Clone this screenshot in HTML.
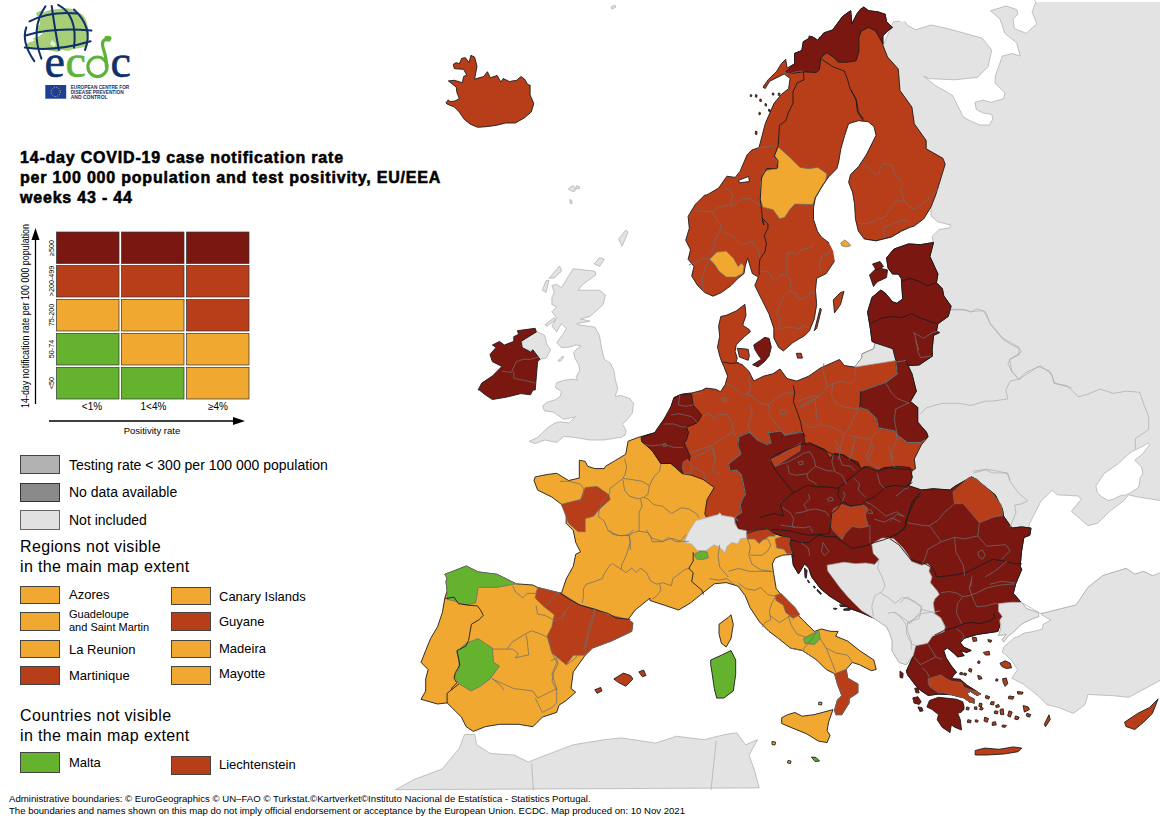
<!DOCTYPE html>
<html><head><meta charset="utf-8"><style>
html,body{margin:0;padding:0;background:#fff;}
body{width:1160px;height:819px;position:relative;overflow:hidden;font-family:"Liberation Sans",sans-serif;color:#000;}
.a{position:absolute;white-space:nowrap;}
</style></head><body>
<svg class="a" style="left:0;top:0" width="1160" height="819" viewBox="0 0 1160 819">
<g stroke-linejoin="round">
<path d="M883.0,46.0 893.0,22.0 900.0,21.0 1034.0,-10.0 1170.0,-10.0 1170.0,600.0 1030.0,600.0 1000.0,560.0 960.0,520.0 900.0,490.0 895.0,440.0 895.0,365.0 920.0,330.0 925.0,260.0 933.0,241.0 932.0,236.7 939.0,229.5 949.0,228.0 951.0,225.0 938.0,222.0 931.0,216.0 931.0,207.0 920.0,160.0 905.0,110.0Z" fill="#e3e3e3" stroke="#aaaaaa" stroke-width="0.7"/>
<path d="M900.0,0.0 1034.5,0.0 1035.7,2.4 1032.1,11.9 1036.9,23.8 1026.2,33.3 1014.3,28.6 1013.1,19.0 1017.9,14.3 1016.7,9.5 1006.0,6.0 990.5,10.7 1000.0,19.0 1004.8,33.3 1016.7,42.9 1020.2,56.0 1011.9,53.6 1002.4,56.0 995.2,76.2 995.2,83.3 1004.8,92.9 1003.6,98.8 990.5,102.4 983.3,100.0 975.0,102.4 976.2,109.5 983.3,113.1 991.7,114.3 992.9,119.0 989.3,125.0 979.8,125.0 969.0,120.2 963.1,116.7 952.4,95.2 935.7,85.7 923.8,76.2 928.6,78.6 954.8,79.8 977.4,77.4 988.1,66.7 991.7,50.0 982.1,38.1 969.0,34.5 947.6,28.6 931.0,25.0 915.5,29.8 907.1,25.0 904.8,21.4 900.0,21.4Z" fill="#fff" stroke="none"/>
<path d="M880.0,-10.0 1170.0,-10.0 1170.0,2.0 880.0,2.0Z" fill="#fff" stroke="none"/>
<path d="M1029.8,523.3 1040.5,501.9 1052.4,490.0 1057.0,494.8 1078.6,496.0 1081.0,499.5 1071.4,511.4 1088.0,525.7 1097.6,523.3 1109.5,511.4 1123.8,500.7 1128.6,494.8 1138.0,497.0 1170.0,502.0 1170.0,572.7 1152.4,575.7 1143.6,571.3 1134.8,574.2 1126.0,568.4 1102.6,575.7 1088.0,587.4 1076.2,605.0 1052.7,610.8 1041.0,613.8 1020.5,601.7 1013.0,593.0 1014.0,585.0 1020.0,566.0 1022.0,550.0 1024.0,537.0Z" fill="#fff" stroke="#aaaaaa" stroke-width="0.7"/>
<path d="M1095.9,485.8 1104.0,473.7 1117.4,464.3 1130.8,452.2 1144.2,445.5 1148.3,442.8 1149.6,444.8 1142.9,453.6 1134.8,460.3 1141.5,467.0 1142.9,473.7 1140.2,477.7 1138.9,487.1 1130.8,492.5 1125.4,495.2 1121.4,495.2 1113.4,499.2 1108.0,500.5 1101.3,496.5 1097.2,492.5Z" fill="#fff" stroke="#aaaaaa" stroke-width="0.7"/>
<path d="M573.3,268.8 594.8,271.2 596.0,274.8 582.9,284.3 578.1,290.2 599.5,290.2 605.5,295.0 603.1,304.5 590.0,316.4 580.5,318.8 590.0,321.2 576.9,323.6 578.1,324.8 594.8,327.1 599.5,335.5 601.9,349.8 604.3,359.3 610.3,363.2 614.0,370.5 615.2,379.1 617.7,388.8 615.2,396.2 621.3,395.5 629.9,398.6 633.5,403.5 632.3,413.2 627.4,419.3 622.5,424.2 626.2,430.3 625.0,435.2 620.1,437.7 618.6,437.6 604.3,440.0 590.0,440.0 575.7,437.6 563.8,436.4 556.7,442.4 544.8,440.0 535.2,443.6 529.3,441.2 537.6,437.6 547.1,428.1 554.3,423.3 560.3,421.8 568.8,423.0 575.5,416.9 563.9,419.3 556.6,414.5 553.0,412.0 544.4,410.8 542.6,405.9 546.9,402.3 555.4,399.8 560.3,396.2 561.5,391.3 555.4,387.6 556.6,382.7 563.9,380.3 573.7,379.1 577.4,380.3 576.2,376.6 579.8,370.5 578.6,364.4 574.9,358.3 573.7,352.2 577.4,348.5 581.0,346.1 576.2,344.9 568.8,347.3 561.4,347.4 556.7,342.6 563.8,333.1 566.2,328.3 561.4,323.6 556.7,331.9 551.9,326.0 556.7,317.6 551.9,311.7 556.7,306.9 551.9,304.5 551.9,297.4 554.3,292.6 551.9,285.5 556.7,284.3 561.4,287.9 568.6,276.0Z" fill="#e3e3e3" stroke="#aaaaaa" stroke-width="0.7"/>
<path d="M522.1,342.6 528.1,334.3 537.6,331.9 544.8,335.5 547.1,345.0 550.7,349.8 546.0,358.1 540.0,359.3 532.9,352.1 528.1,349.8 522.1,349.8Z" fill="#e3e3e3" stroke="#aaaaaa" stroke-width="0.7"/>
<path d="M542.4,290.2 546.0,280.7 549.0,280.2 546.0,292.6Z" fill="#e3e3e3" stroke="#aaaaaa" stroke-width="0.7"/>
<path d="M549.0,278.3 559.5,266.0 561.9,270.7 554.3,277.9Z" fill="#e3e3e3" stroke="#aaaaaa" stroke-width="0.7"/>
<path d="M618.6,239.0 625.7,230.2 628.1,231.9 622.1,246.2Z" fill="#e3e3e3" stroke="#aaaaaa" stroke-width="0.7"/>
<path d="M594.3,264.0 599.5,257.4 604.3,259.3 599.5,266.4Z" fill="#e3e3e3" stroke="#aaaaaa" stroke-width="0.7"/>
<path d="M544.8,324.8 554.3,317.6 555.5,320.0 547.1,326.0Z" fill="#e3e3e3" stroke="#aaaaaa" stroke-width="0.7"/>
<path d="M557.8,360.8 562.7,355.9 563.9,357.1 560.3,361.4Z" fill="#e3e3e3" stroke="#aaaaaa" stroke-width="0.7"/>
<path d="M395.5,789.7 414.5,779.3 442.1,769.0 459.3,748.3 464.5,734.5 474.8,734.5 476.6,744.8 490.3,753.4 514.5,755.2 528.3,762.1 545.5,755.2 573.1,744.8 604.1,739.7 621.4,737.9 655.9,743.1 676.6,736.2 704.1,739.7 724.8,734.5 736.9,732.8 745.5,744.8 757.6,739.7 749.0,755.2 754.1,769.0 759.3,787.9Z" fill="#e3e3e3" stroke="#aaaaaa" stroke-width="0.7"/>
<path d="M453.2,64.4 456.2,62.6 459.3,63.8 461.7,58.3 465.4,57.7 469.1,62.6 470.9,55.3 474.6,57.1 477.0,66.2 474.6,79.1 483.7,76.6 487.4,71.7 490.4,77.8 497.1,75.4 500.8,82.1 503.2,78.5 509.3,81.5 516.7,80.3 520.9,76.6 524.6,79.1 527.7,84.6 530.1,85.2 530.1,94.9 533.8,103.5 531.3,112.0 524.0,118.1 515.4,123.0 505.7,123.0 495.9,125.4 486.2,126.7 477.6,127.3 470.3,124.2 464.2,119.3 459.3,112.0 454.4,107.1 447.1,104.1 445.9,102.9 448.3,99.8 450.1,101.6 455.0,101.0 459.3,98.6 456.9,92.5 456.2,87.0 448.3,80.9 454.4,80.3 462.3,82.7 463.6,76.6 466.6,74.8 463.6,69.3 454.4,68.7Z" fill="#b83d19" stroke="#1c1c1c" stroke-width="0.9"/>
<path d="M517.4,330.7 535.2,328.3 536.4,331.9 521.0,341.4 522.1,347.4 530.5,352.1 532.9,349.8 540.0,359.3 537.6,361.7 536.4,376.0 535.2,390.0 532.9,390.0 530.5,394.8 521.0,393.6 506.7,397.1 492.4,399.5 485.2,394.8 479.3,390.0 478.1,390.0 481.7,383.1 492.4,376.0 501.9,366.4 492.4,361.7 490.0,354.5 496.0,347.4 492.4,345.0 499.5,341.4 504.3,345.0 513.8,341.4 513.8,336.7 518.6,334.3Z" fill="#7a1711" stroke="#1c1c1c" stroke-width="0.9"/>
<path d="M713.1,296.2 704.8,292.6 697.6,285.5 691.7,276.0 694.0,266.4 688.1,259.3 690.5,249.8 685.7,240.2 689.3,228.3 688.1,216.4 695.2,204.5 704.8,195.0 706.7,195.0 718.6,188.1 726.9,176.2 735.2,177.4 740.0,171.4 747.1,154.8 751.9,150.0 759.0,147.6 765.2,123.8 774.0,103.3 781.3,94.5 788.6,88.6 790.1,78.4 784.2,74.0 769.6,81.3 765.2,88.6 763.0,87.1 768.1,79.8 776.9,71.0 781.3,63.7 785.7,59.3 787.1,68.1 794.5,63.7 794.5,53.4 801.8,50.5 803.3,41.7 812.1,36.6 817.9,40.3 823.8,32.9 832.6,30.0 842.4,16.7 847.1,13.1 850.7,10.7 851.9,23.8 856.7,14.3 860.2,9.5 863.8,7.1 868.6,10.7 878.1,11.9 885.2,14.3 886.4,21.4 892.4,27.4 887.6,31.0 882.9,35.7 882.9,45.2 887.6,57.1 898.3,69.0 900.0,90.5 911.9,107.1 914.3,123.8 926.2,140.5 926.2,148.8 942.9,158.3 945.2,164.3 935.7,195.0 931.0,206.9 923.8,218.8 914.3,226.0 910.0,227.3 901.4,231.2 891.6,237.0 876.0,240.9 864.3,239.0 855.0,241.0 838.0,262.0 835.7,259.3 826.2,273.6 816.7,278.3 815.5,290.2 816.7,304.5 814.3,318.8 809.5,330.7 804.8,335.5 792.9,342.6 783.3,351.0 778.6,347.4 773.8,337.9 773.8,328.3 769.0,314.0 761.9,299.8 754.8,285.5 758.3,277.1 752.4,273.6 747.6,258.1 745.2,266.4 744.0,273.6 738.1,278.3 731.0,285.5 721.4,292.6Z" fill="#b83d19" stroke="#1c1c1c" stroke-width="0.9"/>
<path d="M848.6,123.7 858.4,120.7 868.2,121.7 874.0,126.6 876.0,135.4 872.1,143.2 866.2,155.0 858.4,166.7 850.6,174.5 848.6,182.3 852.5,192.1 854.5,203.8 855.5,219.4 858.4,231.2 864.3,239.0 876.0,240.9 891.6,237.0 901.4,231.2 910.0,227.3 910.0,270.1 836.9,270.1 835.0,262.4 833.0,250.7 829.1,242.9 821.3,237.0 817.4,231.2 813.5,219.4 813.5,207.7 815.4,197.9 823.2,184.3 829.1,176.4 836.9,168.6 838.9,160.8 840.8,149.1 844.7,135.4Z" fill="#fff" stroke="none"/>
<path d="M738.5,180.3 748.7,176.4 749.4,181.5 739.7,182.8Z" fill="#fff" stroke="#1c1c1c" stroke-width="0.9"/>
<path d="M656.2,432.1 661.0,423.8 669.3,411.9 674.0,397.6 682.4,394.0 691.9,392.9 701.4,390.5 706.2,388.1 715.7,389.3 720.5,391.7 725.2,384.5 727.6,376.2 724.0,366.7 721.9,362.5 719.7,355.9 717.5,347.1 719.7,336.2 718.6,326.3 720.8,316.4 726.3,315.3 736.2,310.9 744.9,304.3 746.0,315.3 742.7,325.2 749.3,329.6 750.4,331.8 744.9,336.2 739.5,341.6 736.2,344.9 735.1,351.5 737.3,358.1 736.2,361.4 738.4,363.6 741.9,364.3 749.0,371.4 753.8,381.0 763.3,376.2 772.9,373.8 780.0,369.0 787.1,378.6 796.7,381.0 808.6,376.2 820.5,367.9 839.5,359.5 844.3,365.5 854.7,367.1 862.1,357.6 862.1,353.9 873.8,348.8 875.2,342.9 872.0,341.4 870.5,329.6 867.6,312.1 872.0,297.4 880.8,290.1 885.2,293.0 892.5,301.8 896.9,303.3 902.7,298.9 901.3,278.4 898.4,274.0 892.5,274.0 888.1,268.1 886.6,257.8 894.0,249.0 908.6,243.9 920.3,244.7 933.5,242.5 929.9,256.4 937.9,274.0 936.4,282.7 942.3,288.6 943.8,295.9 951.1,306.2 948.2,316.4 937.9,323.8 936.4,331.1 939.4,332.6 933.5,335.5 932.1,350.0 932.4,356.1 919.2,364.9 907.5,365.6 911.9,373.7 916.3,391.3 910.4,401.5 917.7,407.4 917.7,422.1 926.5,432.3 928.0,436.7 927.4,437.6 921.4,444.8 914.3,459.0 915.5,468.6 911.9,471.0 910.7,480.5 907.1,485.2 921.4,490.0 933.3,488.8 950.0,490.0 954.8,486.4 971.4,476.9 976.2,479.3 983.3,485.2 995.2,494.8 1002.4,509.0 1003.6,516.2 1011.9,528.1 1021.4,526.9 1031.0,528.1 1029.8,535.2 1023.8,537.6 1021.4,551.9 1020.2,566.2 1021.7,569.5 1015.7,583.8 1013.3,593.3 1020.5,601.7 999.0,607.6 1002.6,617.1 997.9,631.4 997.9,631.4 976.9,634.5 964.1,638.3 960.3,642.8 964.1,647.3 971.2,650.5 966.7,652.4 960.3,650.5 964.1,655.6 957.7,656.9 953.8,653.1 947.4,647.9 943.6,650.5 946.2,658.2 951.3,665.9 956.4,672.3 953.8,674.9 951.3,678.7 960.3,679.4 966.7,685.1 976.9,691.5 980.8,694.1 976.9,695.4 970.5,691.5 966.7,692.8 969.2,696.7 974.4,699.2 974.4,703.1 969.2,701.8 964.1,697.9 959.0,696.7 951.3,694.7 938.5,694.1 928.2,695.4 920.5,690.3 915.4,685.1 907.7,674.9 906.4,671.0 912.8,656.9 916.7,644.1 928.2,637.7 930.8,630.0 944.3,631.4 873.3,617.9 860.1,612.1 851.3,609.1 841.0,603.3 829.3,595.9 820.5,588.6 811.7,576.9 808.8,568.1 804.4,563.7 804.5,563.7 801.1,569.7 798.5,573.9 793.4,565.4 792.6,560.3 791.4,549.3 789.9,543.4 791.4,537.6 745.0,531.0 700.0,530.0 690.0,500.0 650.0,453.0 641.9,436.9Z" fill="#b83d19" stroke="#1c1c1c" stroke-width="0.9"/>
<path d="M650.0,434.0 637.6,437.6 628.1,441.2 625.7,454.3 613.8,461.4 605.5,466.2 604.3,468.6 594.8,468.6 587.6,466.2 585.2,461.4 579.3,460.2 579.3,478.1 568.6,480.5 556.7,473.3 547.1,474.5 535.2,476.9 534.0,480.5 537.6,490.0 551.9,497.1 561.4,504.3 566.2,513.8 566.2,523.3 573.3,530.5 575.7,542.4 580.5,551.9 575.7,554.3 573.3,566.2 566.2,579.0 561.4,593.3 537.6,587.4 532.9,585.0 516.2,583.8 497.1,574.3 478.1,571.9 466.2,566.0 454.3,570.7 444.8,574.3 447.1,577.9 446.0,581.4 447.1,591.0 444.8,598.1 442.4,612.4 437.6,626.7 430.5,638.6 425.7,650.5 421.0,662.4 428.1,669.5 425.7,679.0 425.7,691.0 421.0,699.3 437.6,704.0 447.1,702.9 451.9,707.6 461.4,717.1 466.2,726.7 473.3,731.4 485.2,726.7 499.5,724.3 518.6,724.3 532.9,726.7 542.4,717.1 556.7,712.4 559.0,705.2 566.2,700.5 575.7,692.1 571.0,688.6 573.3,671.9 585.2,655.2 592.4,648.1 611.4,641.0 631.7,631.4 632.9,623.1 628.1,619.5 635.2,610.0 650.0,598.1 650.0,600.5 664.3,605.2 678.6,610.0 690.5,602.9 702.4,593.3 714.3,583.8 726.2,582.6 738.1,586.2 745.2,595.7 750.0,607.6 759.5,621.9 769.0,631.4 778.6,638.6 790.5,648.1 802.4,650.5 809.5,655.2 816.7,660.0 826.2,669.5 834.5,673.7 837.4,684.0 841.8,695.7 837.4,700.1 834.5,710.3 835.9,714.7 841.8,714.7 849.1,703.0 849.1,698.6 857.9,692.7 857.9,684.0 847.7,678.1 846.2,669.3 852.4,662.4 859.5,664.8 871.4,670.7 876.2,669.5 873.8,660.0 859.5,650.5 847.6,641.0 835.7,636.2 838.1,631.4 831.0,631.4 821.4,629.0 814.3,631.4 802.4,619.5 792.9,610.0 785.7,600.5 776.2,588.6 773.8,574.3 772.3,564.0 775.2,558.1 782.6,555.2 792.8,554.4 794.3,556.6 791.4,549.3 789.9,543.4 791.4,537.6 782.6,536.1 773.8,533.2 767.9,528.8 756.2,530.3 747.4,533.2 744.5,531.7 732.7,524.4 719.0,513.8 707.1,518.6 704.8,513.8 707.1,499.5 714.2,487.5 703.3,479.6 691.5,475.2 682.7,473.8 671.0,463.5 660.8,463.5 652.0,450.3 641.7,441.5 641.0,437.9Z" fill="#f1a830" stroke="#1c1c1c" stroke-width="0.9"/>
<path d="M719.0,624.3 728.6,617.1 731.0,614.8 733.3,624.3 731.0,638.6 726.2,646.9 721.4,643.3 719.0,633.8Z" fill="#f1a830" stroke="#1c1c1c" stroke-width="0.9"/>
<path d="M710.7,660.0 721.4,655.2 731.0,650.5 735.7,660.0 735.7,674.3 733.3,691.0 723.8,698.1 716.7,698.1 714.3,688.6 711.9,671.9 710.7,664.8Z" fill="#64b22e" stroke="#1c1c1c" stroke-width="0.9"/>
<path d="M781.7,717.7 787.6,714.7 794.9,712.5 802.2,716.2 814.0,714.7 833.0,709.6 828.6,722.1 827.1,730.8 830.1,735.2 827.1,742.6 818.4,741.1 806.6,733.8 792.0,727.9 781.7,723.5Z" fill="#f1a830" stroke="#1c1c1c" stroke-width="0.9"/>
<path d="M613.8,679.0 623.3,673.1 630.5,675.5 632.9,679.0 625.7,686.2 618.6,682.6Z" fill="#b83d19" stroke="#1c1c1c" stroke-width="0.9"/>
<path d="M638.8,671.9 643.6,670.0 646.0,675.5 642.4,676.7Z" fill="#b83d19" stroke="#1c1c1c" stroke-width="0.9"/>
<path d="M594.8,689.8 600.7,687.4 601.9,691.0 597.1,693.3Z" fill="#b83d19" stroke="#1c1c1c" stroke-width="0.9"/>
<path d="M833.3,299.8 840.5,292.6 844.0,291.4 840.5,304.5 834.5,312.9Z" fill="#b83d19" stroke="#1c1c1c" stroke-width="0.9"/>
<path d="M814.3,330.7 820.2,308.1 821.4,309.3 816.7,328.3Z" fill="#b83d19" stroke="#1c1c1c" stroke-width="0.9"/>
<path d="M796.4,353.3 801.2,353.3 802.4,358.1 797.6,358.1Z" fill="#b83d19" stroke="#1c1c1c" stroke-width="0.9"/>
<path d="M753.7,344.9 760.3,340.5 764.7,337.3 769.1,338.4 771.3,347.1 769.1,355.9 764.7,361.4 758.1,366.9 752.6,364.7 761.4,359.2 758.1,354.8 754.8,349.3Z" fill="#7a1711" stroke="#1c1c1c" stroke-width="0.9"/>
<path d="M737.3,348.2 748.2,349.3 749.3,355.9 748.2,360.3 739.5,357.0Z" fill="#b83d19" stroke="#1c1c1c" stroke-width="0.9"/>
<path d="M869.5,275.0 877.0,267.5 887.5,270.0 886.5,277.5 877.0,282.0 873.5,286.5Z" fill="#7a1711" stroke="#1c1c1c" stroke-width="0.9"/>
<path d="M872.5,264.0 880.0,261.5 883.5,266.5 876.5,270.5Z" fill="#7a1711" stroke="#1c1c1c" stroke-width="0.9"/>
<path d="M975.2,750.5 984.8,748.1 999.0,749.3 1013.3,746.9 1021.7,748.1 1018.1,751.7 1003.8,754.0 987.1,755.0 975.2,755.0Z" fill="#b83d19" stroke="#1c1c1c" stroke-width="0.9"/>
<path d="M1044.3,724.3 1049.0,714.8 1050.2,719.5 1045.5,726.7Z" fill="#b83d19" stroke="#1c1c1c" stroke-width="0.9"/>
<path d="M1124.5,722.2 1137.7,713.4 1149.5,707.5 1158.2,698.8 1152.4,713.4 1143.6,722.2 1134.8,729.5 1126.0,726.6Z" fill="#b83d19" stroke="#1c1c1c" stroke-width="0.9"/>
<path d="M900.0,671.0 903.2,673.6 902.6,678.1 900.0,677.4Z" fill="#7a1711" stroke="#1c1c1c" stroke-width="0.9"/>
<path d="M914.7,688.3 917.9,687.7 919.2,692.8 916.0,692.8Z" fill="#7a1711" stroke="#1c1c1c" stroke-width="0.9"/>
<path d="M912.8,697.9 917.9,696.7 921.2,701.8 919.2,704.4 914.1,703.1Z" fill="#7a1711" stroke="#1c1c1c" stroke-width="0.9"/>
<path d="M917.9,706.9 921.8,707.6 923.1,710.8 919.9,711.4Z" fill="#7a1711" stroke="#1c1c1c" stroke-width="0.9"/>
<path d="M972.4,637.1 976.3,637.7 976.9,640.9 973.1,641.5Z" fill="#b83d19" stroke="#1c1c1c" stroke-width="0.9"/>
<path d="M987.8,639.6 991.7,640.3 991.0,642.2 988.5,641.8Z" fill="#b83d19" stroke="#1c1c1c" stroke-width="0.9"/>
<path d="M983.3,652.4 989.1,651.2 989.7,655.0 985.3,655.0Z" fill="#b83d19" stroke="#1c1c1c" stroke-width="0.9"/>
<path d="M1000.0,663.3 1005.1,660.8 1010.3,663.3 1011.5,667.8 1006.4,668.5 1001.9,666.5Z" fill="#b83d19" stroke="#1c1c1c" stroke-width="0.9"/>
<path d="M1002.6,678.7 1006.4,678.1 1007.7,683.8 1005.1,686.4 1003.2,682.6Z" fill="#b83d19" stroke="#1c1c1c" stroke-width="0.9"/>
<path d="M977.6,675.5 980.8,676.2 982.1,678.7 978.8,679.4Z" fill="#b83d19" stroke="#1c1c1c" stroke-width="0.9"/>
<path d="M969.2,668.5 971.8,669.1 971.2,672.3 968.6,671.0Z" fill="#b83d19" stroke="#1c1c1c" stroke-width="0.9"/>
<path d="M1017.3,691.5 1023.1,692.2 1022.4,694.1 1017.9,694.1Z" fill="#b83d19" stroke="#1c1c1c" stroke-width="0.9"/>
<path d="M1009.0,696.0 1014.1,696.7 1012.8,699.2 1008.3,698.6Z" fill="#b83d19" stroke="#1c1c1c" stroke-width="0.9"/>
<path d="M985.9,695.4 989.7,696.7 988.5,699.2 985.3,697.9Z" fill="#b83d19" stroke="#1c1c1c" stroke-width="0.9"/>
<path d="M991.0,701.8 994.2,701.8 993.6,705.0 990.4,704.4Z" fill="#b83d19" stroke="#1c1c1c" stroke-width="0.9"/>
<path d="M995.5,705.6 998.7,704.4 999.4,706.9 996.2,707.6Z" fill="#b83d19" stroke="#1c1c1c" stroke-width="0.9"/>
<path d="M1000.0,709.5 1003.2,708.8 1003.8,714.6 1000.6,714.6Z" fill="#b83d19" stroke="#1c1c1c" stroke-width="0.9"/>
<path d="M994.9,710.8 998.1,711.4 997.4,714.0 994.2,713.3Z" fill="#b83d19" stroke="#1c1c1c" stroke-width="0.9"/>
<path d="M1009.0,710.8 1012.2,712.1 1010.3,717.2 1007.7,715.9Z" fill="#b83d19" stroke="#1c1c1c" stroke-width="0.9"/>
<path d="M984.6,717.2 988.5,718.5 987.2,722.3 984.0,721.0Z" fill="#b83d19" stroke="#1c1c1c" stroke-width="0.9"/>
<path d="M992.3,722.3 995.5,721.7 996.2,724.9 992.3,725.5Z" fill="#b83d19" stroke="#1c1c1c" stroke-width="0.9"/>
<path d="M1002.6,724.9 1006.4,725.5 1005.1,727.4 1001.9,726.8Z" fill="#b83d19" stroke="#1c1c1c" stroke-width="0.9"/>
<path d="M1015.4,715.9 1019.2,717.2 1017.9,719.7 1014.7,719.1Z" fill="#b83d19" stroke="#1c1c1c" stroke-width="0.9"/>
<path d="M979.5,703.1 982.1,703.7 981.4,706.9 978.8,706.3Z" fill="#b83d19" stroke="#1c1c1c" stroke-width="0.9"/>
<path d="M980.8,706.9 983.3,708.2 982.1,710.1 979.5,709.5Z" fill="#b83d19" stroke="#1c1c1c" stroke-width="0.9"/>
<path d="M974.4,706.9 976.9,706.9 976.9,709.5 974.4,709.2Z" fill="#b83d19" stroke="#1c1c1c" stroke-width="0.9"/>
<path d="M967.9,719.7 971.2,720.4 970.5,722.9 967.3,722.3Z" fill="#b83d19" stroke="#1c1c1c" stroke-width="0.9"/>
<path d="M975.6,719.7 978.2,720.4 977.6,722.3 975.0,721.7Z" fill="#b83d19" stroke="#1c1c1c" stroke-width="0.9"/>
<path d="M1023.1,705.6 1028.2,706.9 1029.5,709.5 1024.4,712.1Z" fill="#b83d19" stroke="#1c1c1c" stroke-width="0.9"/>
<path d="M1026.9,713.3 1030.8,714.6 1029.5,717.2 1026.3,715.9Z" fill="#b83d19" stroke="#1c1c1c" stroke-width="0.9"/>
<path d="M960.3,672.3 962.8,672.9 962.2,674.9 959.6,674.2Z" fill="#b83d19" stroke="#1c1c1c" stroke-width="0.9"/>
<path d="M964.1,672.9 966.7,673.6 966.0,675.5 963.5,674.9Z" fill="#b83d19" stroke="#1c1c1c" stroke-width="0.9"/>
<path d="M996.2,678.7 998.1,679.4 997.4,681.3 995.5,680.6Z" fill="#b83d19" stroke="#1c1c1c" stroke-width="0.9"/>
<path d="M978.2,660.8 980.1,661.4 979.5,663.6 977.6,663.1Z" fill="#b83d19" stroke="#1c1c1c" stroke-width="0.9"/>
<path d="M961.5,706.9 964.1,707.6 963.5,710.1 960.9,709.5Z" fill="#b83d19" stroke="#1c1c1c" stroke-width="0.9"/>
<path d="M966.7,706.9 969.2,707.6 968.6,710.1 966.0,709.5Z" fill="#b83d19" stroke="#1c1c1c" stroke-width="0.9"/>
<path d="M804.5,567.9 807.1,570.5 806.2,578.2 805.0,577.4Z" fill="#7a1711" stroke="#1c1c1c" stroke-width="0.9"/>
<path d="M810.5,571.4 812.6,572.2 811.8,574.8 810.3,573.9Z" fill="#7a1711" stroke="#1c1c1c" stroke-width="0.9"/>
<path d="M807.9,579.9 809.7,582.5 808.8,582.9 807.5,580.8Z" fill="#7a1711" stroke="#1c1c1c" stroke-width="0.9"/>
<path d="M813.9,585.9 815.6,587.6 814.8,588.3 813.2,586.8Z" fill="#7a1711" stroke="#1c1c1c" stroke-width="0.9"/>
<path d="M817.4,589.3 821.6,593.6 820.8,594.4 816.9,590.6Z" fill="#7a1711" stroke="#1c1c1c" stroke-width="0.9"/>
<path d="M839.6,604.7 848.1,605.6 847.3,606.8 840.4,606.4Z" fill="#7a1711" stroke="#1c1c1c" stroke-width="0.9"/>
<path d="M843.8,609.0 851.5,608.1 849.8,610.3 843.8,610.3Z" fill="#7a1711" stroke="#1c1c1c" stroke-width="0.9"/>
<path d="M833.6,608.1 837.0,608.5 836.2,609.4 833.8,609.1Z" fill="#7a1711" stroke="#1c1c1c" stroke-width="0.9"/>
<path d="M811.5,757.0 816.0,757.5 819.5,761.0 815.0,761.5Z" fill="#64b22e" stroke="#1c1c1c" stroke-width="0.9"/>
<path d="M772.0,741.5 775.5,742.0 775.0,745.0 772.0,744.5Z" fill="#f1a830" stroke="#1c1c1c" stroke-width="0.9"/>
<path d="M788.0,760.5 791.0,761.0 790.5,763.5 787.5,763.0Z" fill="#f1a830" stroke="#1c1c1c" stroke-width="0.9"/>
<path d="M819.0,702.0 822.0,702.5 821.5,705.0 818.5,704.5Z" fill="#f1a830" stroke="#1c1c1c" stroke-width="0.9"/>
<path d="M568.3,189.0 572.7,185.6 575.6,188.0 574.6,191.5 571.7,191.0Z" fill="#e3e3e3" stroke="#aaaaaa" stroke-width="0.7"/>
<path d="M576.5,185.6 580.0,187.0 579.0,189.0 576.0,188.5Z" fill="#e3e3e3" stroke="#aaaaaa" stroke-width="0.7"/>
<path d="M569.8,199.5 572.0,200.5 572.0,204.0 570.0,203.0Z" fill="#e3e3e3" stroke="#aaaaaa" stroke-width="0.7"/>
<path d="M611.0,7.0 615.0,5.0 616.0,7.0 612.0,9.0Z" fill="#e3e3e3" stroke="#aaaaaa" stroke-width="0.7"/>
<path d="M755.6,94.5 757.1,95.2 756.7,97.4 755.2,96.7Z" fill="#b83d19" stroke="#1c1c1c" stroke-width="0.9"/>
<path d="M760.0,98.9 761.5,99.6 761.1,101.8 759.6,101.1Z" fill="#b83d19" stroke="#1c1c1c" stroke-width="0.9"/>
<path d="M765.2,103.3 766.6,104.0 766.3,106.2 764.9,105.5Z" fill="#b83d19" stroke="#1c1c1c" stroke-width="0.9"/>
<path d="M768.8,109.1 770.3,109.9 769.9,111.8 768.4,111.0Z" fill="#b83d19" stroke="#1c1c1c" stroke-width="0.9"/>
<path d="M759.3,112.1 760.5,112.8 760.0,115.0 758.7,114.2Z" fill="#b83d19" stroke="#1c1c1c" stroke-width="0.9"/>
<path d="M755.6,131.1 757.1,131.8 756.7,134.8 755.2,134.0Z" fill="#b83d19" stroke="#1c1c1c" stroke-width="0.9"/>
<path d="M772.5,93.0 774.0,93.3 773.7,95.2 772.2,94.8Z" fill="#b83d19" stroke="#1c1c1c" stroke-width="0.9"/>
<path d="M778.4,93.0 780.1,93.4 779.5,95.6 778.1,95.2Z" fill="#b83d19" stroke="#1c1c1c" stroke-width="0.9"/>
<path d="M750.5,94.5 752.0,95.2 751.4,96.7 750.1,96.2Z" fill="#b83d19" stroke="#1c1c1c" stroke-width="0.9"/>
<path d="M809.1,35.9 811.3,36.6 810.9,38.8 808.8,38.1Z" fill="#b83d19" stroke="#1c1c1c" stroke-width="0.9"/>
<path d="M819.4,37.3 820.8,38.1 820.1,40.3 818.6,39.5Z" fill="#b83d19" stroke="#1c1c1c" stroke-width="0.9"/>
<path d="M850.1,38.8 851.6,39.5 851.0,41.7 849.6,41.0Z" fill="#b83d19" stroke="#1c1c1c" stroke-width="0.9"/>
<path d="M684.1,542.5 688.5,532.2 695.9,520.5 704.7,518.3 717.8,514.7 720.0,512.9 721.5,515.4 734.0,517.6 734.7,523.4 738.4,529.3 746.4,530.8 746.4,538.1 740.5,538.8 737.6,544.0 731.8,542.5 726.6,546.9 725.2,552.7 720.0,547.6 714.2,544.7 706.1,550.5 697.3,550.5 691.5,544.0Z" fill="#e3e3e3" stroke="#aaaaaa" stroke-width="0.7"/>
<path d="M827.1,565.2 844.0,562.2 855.7,563.7 865.9,563.0 874.7,564.4 879.1,559.3 873.3,553.4 871.8,543.9 882.1,538.1 893.8,538.8 902.6,547.6 908.4,555.6 911.4,561.5 921.6,565.2 927.5,563.7 930.4,566.6 928.9,571.0 931.9,576.9 930.4,582.7 937.7,591.5 939.2,594.5 934.8,598.9 933.3,603.3 934.8,613.5 940.7,617.9 945.1,626.7 944.3,631.4 932.4,636.2 927.6,643.3 915.7,645.7 913.3,655.2 906.2,664.8 899.0,662.4 891.9,650.5 892.3,641.4 889.4,632.6 886.4,626.7 873.3,617.9 868.9,615.0 861.5,610.6 857.1,606.2 848.4,597.4 839.6,587.1 832.2,576.9 827.8,571.0Z" fill="#e3e3e3" stroke="#aaaaaa" stroke-width="0.7"/>
<path d="M998.5,603.6 1011.3,602.3 1021.5,602.3 1026.7,608.7 1038.2,612.6 1038.8,616.4 1031.8,619.0 1021.5,624.1 1013.8,631.8 1008.7,635.6 1003.6,642.1 1002.3,639.5 1006.2,634.4 998.5,635.6 1001.0,627.9 999.7,620.3 1002.3,616.4 998.5,611.3Z" fill="#e3e3e3" stroke="#aaaaaa" stroke-width="0.7"/>
<path d="M1041.0,613.8 1052.7,610.8 1076.2,605.0 1087.9,587.4 1102.6,575.7 1126.0,568.4 1134.8,574.2 1143.6,571.3 1152.4,575.7 1160.0,572.7 1170.0,572.0 1170.0,675.0 1128.9,697.3 1114.3,695.8 1087.9,694.4 1085.0,704.6 1073.3,713.4 1058.6,707.5 1046.9,704.6 1038.1,695.8 1023.4,684.1 1011.7,678.2 1017.6,669.5 1011.7,660.7 1005.9,654.8 1002.3,652.3 1003.6,647.2 1013.8,638.2 1020.3,635.6 1024.1,633.1 1031.8,631.8 1042.1,629.2 1043.3,624.1 1051.0,620.3 1042.1,615.1 1042.1,612.6Z" fill="#e3e3e3" stroke="#aaaaaa" stroke-width="0.7"/>
<path d="M854.7,367.1 862.1,357.6 862.1,353.9 873.8,348.8 875.2,342.9 882.6,344.4 892.8,348.8 895.8,360.5Z" fill="#e3e3e3" stroke="#aaaaaa" stroke-width="0.7"/>
<path d="M785.7,71.8 794.5,63.7 794.5,53.4 801.8,50.5 803.3,41.7 812.1,36.6 817.9,40.3 823.8,32.9 832.6,30.0 842.4,16.7 847.1,13.1 850.7,10.7 851.9,23.8 856.7,14.3 860.2,9.5 863.8,7.1 868.6,10.7 878.1,11.9 885.2,14.3 886.4,21.4 892.4,27.4 887.6,31.0 882.9,35.7 882.9,44.0 875.7,31.0 868.6,27.4 861.4,31.0 858.9,37.3 858.9,52.0 856.0,60.8 847.2,62.2 838.4,62.2 832.6,56.4 826.7,52.7 820.8,57.8 819.4,69.6 816.4,72.5 803.3,71.8 788.6,74.0Z" fill="#7a1711" stroke="#1c1c1c" stroke-width="0.9"/>
<path d="M778.2,146.9 789.7,157.2 800.0,167.4 809.0,168.7 817.9,167.4 826.9,173.8 825.6,181.5 820.5,189.2 815.4,196.9 812.8,204.6 794.9,204.0 789.7,209.7 784.6,217.4 779.5,218.7 773.1,209.7 762.8,207.2 760.3,199.5 760.3,182.8 764.1,171.3 773.1,168.7 778.2,167.4 776.9,159.7 774.4,155.9Z" fill="#f1a830" stroke="#6e6e6e" stroke-width="0.75"/>
<path d="M709.5,259.3 716.7,252.1 726.2,251.0 733.3,258.1 738.1,266.4 741.7,262.9 744.0,266.4 742.9,273.6 735.7,277.1 726.2,277.1 719.0,271.2 714.3,264.0Z" fill="#f1a830" stroke="#6e6e6e" stroke-width="0.75"/>
<path d="M840.8,242.9 844.7,240.0 848.6,242.9 850.6,245.8 846.7,246.8 841.8,245.8Z" fill="#f1a830" stroke="#6e6e6e" stroke-width="0.75"/>
<path d="M674.0,397.6 679.8,394.7 691.5,393.9 693.0,404.9 701.8,415.2 697.4,422.5 691.5,425.4 686.4,426.9 688.6,432.7 686.4,440.1 684.2,443.0 690.1,456.2 688.6,463.5 682.7,473.8 671.0,463.5 660.8,463.5 652.0,450.3 641.7,441.5 641.7,437.1 654.9,432.7 656.4,429.8 663.7,419.6 671.0,406.4Z" fill="#7a1711" stroke="#1c1c1c" stroke-width="0.9"/>
<path d="M872.0,341.4 870.5,329.6 867.6,312.1 872.0,297.4 880.8,290.1 885.2,293.0 892.5,301.8 896.9,303.3 902.7,298.9 901.3,278.4 898.4,274.0 892.5,274.0 888.1,268.1 886.6,257.8 894.0,249.0 908.6,243.9 920.3,244.7 933.5,242.5 929.9,256.4 937.9,274.0 936.4,282.7 942.3,288.6 943.8,295.9 951.1,306.2 948.2,316.4 937.9,323.8 936.4,331.1 939.4,332.6 933.5,335.5 932.1,350.0 932.4,356.1 919.2,364.9 907.5,365.6 895.8,360.5 892.8,348.8 875.2,342.9Z" fill="#7a1711" stroke="#1c1c1c" stroke-width="0.9"/>
<path d="M860.6,391.3 885.5,382.5 897.2,373.7 895.8,362.0 906.0,360.5 911.9,373.7 916.3,391.3 910.4,401.5 917.7,407.4 917.7,422.1 926.5,432.3 928.0,436.7 925.1,439.6 920.7,442.6 907.5,442.6 897.2,435.2 894.3,430.8 878.2,427.9 876.7,419.1 867.9,410.3 859.9,407.4Z" fill="#7a1711" stroke="#1c1c1c" stroke-width="0.9"/>
<path d="M739.0,436.7 749.2,432.2 758.2,440.5 767.2,444.4 771.0,443.0 768.5,432.8 781.3,430.9 785.0,435.4 799.2,431.5 803.0,432.8 805.6,445.6 809.5,443.0 824.9,449.5 830.0,458.5 833.8,453.3 842.8,454.6 849.2,458.5 858.2,462.3 860.8,468.7 864.8,466.4 876.7,471.2 883.8,467.6 898.0,466.4 910.0,467.6 912.4,477.0 910.0,484.3 907.1,485.2 921.4,490.0 933.3,488.8 950.0,490.0 954.8,486.4 971.4,476.9 976.2,479.3 983.3,485.2 995.2,494.8 1002.4,509.0 1003.6,516.2 1011.9,528.1 1021.4,526.9 1031.0,528.1 1029.8,535.2 1023.8,537.6 1021.4,551.9 1020.2,566.2 1021.7,569.5 1015.7,583.8 1013.3,593.3 1020.5,601.7 999.0,607.6 1002.6,617.1 997.9,631.4 997.9,631.4 976.9,634.5 964.1,638.3 960.3,642.8 964.1,647.3 971.2,650.5 966.7,652.4 960.3,650.5 964.1,655.6 957.7,656.9 953.8,653.1 947.4,647.9 943.6,650.5 946.2,658.2 951.3,665.9 956.4,672.3 953.8,674.9 951.3,678.7 960.3,679.4 966.7,685.1 976.9,691.5 980.8,694.1 976.9,695.4 970.5,691.5 966.7,692.8 969.2,696.7 974.4,699.2 974.4,703.1 969.2,701.8 964.1,697.9 959.0,696.7 951.3,694.7 938.5,694.1 928.2,695.4 920.5,690.3 915.4,685.1 907.7,674.9 906.4,671.0 912.8,656.9 916.7,644.1 928.2,637.7 930.8,630.0 944.3,631.4 873.3,617.9 860.1,612.1 851.3,609.1 841.0,603.3 829.3,595.9 820.5,588.6 811.7,576.9 808.8,568.1 804.4,563.7 804.5,563.7 801.1,569.7 798.5,573.9 793.4,565.4 792.6,560.3 791.4,549.3 789.9,543.4 791.4,537.6 782.6,536.1 773.8,533.2 767.9,528.8 756.2,530.3 747.4,533.2 744.5,531.7 732.7,524.4 738.0,528.0 735.7,518.6 741.5,512.3 740.3,504.6 742.8,498.2 745.4,494.4 744.0,486.7 741.5,475.0 736.4,470.0 730.0,471.0 728.6,463.8 741.0,454.0 737.7,445.6Z" fill="#7a1711" stroke="#1c1c1c" stroke-width="0.9"/>
<path d="M684.1,542.5 688.5,532.2 695.9,520.5 704.7,518.3 717.8,514.7 720.0,512.9 721.5,515.4 734.0,517.6 734.7,523.4 738.4,529.3 746.4,530.8 746.4,538.1 740.5,538.8 737.6,544.0 731.8,542.5 726.6,546.9 725.2,552.7 720.0,547.6 714.2,544.7 706.1,550.5 697.3,550.5 691.5,544.0Z" fill="#e3e3e3" stroke="#aaaaaa" stroke-width="0.7"/>
<path d="M827.1,565.2 844.0,562.2 855.7,563.7 865.9,563.0 874.7,564.4 879.1,559.3 873.3,553.4 871.8,543.9 882.1,538.1 893.8,538.8 902.6,547.6 908.4,555.6 911.4,561.5 921.6,565.2 927.5,563.7 930.4,566.6 928.9,571.0 931.9,576.9 930.4,582.7 937.7,591.5 939.2,594.5 934.8,598.9 933.3,603.3 934.8,613.5 940.7,617.9 945.1,626.7 944.3,631.4 932.4,636.2 927.6,643.3 915.7,645.7 913.3,655.2 906.2,664.8 899.0,662.4 891.9,650.5 892.3,641.4 889.4,632.6 886.4,626.7 873.3,617.9 868.9,615.0 861.5,610.6 857.1,606.2 848.4,597.4 839.6,587.1 832.2,576.9 827.8,571.0Z" fill="#e3e3e3" stroke="#aaaaaa" stroke-width="0.7"/>
<path d="M998.5,603.6 1011.3,602.3 1021.5,602.3 1026.7,608.7 1038.2,612.6 1038.8,616.4 1031.8,619.0 1021.5,624.1 1013.8,631.8 1008.7,635.6 1003.6,642.1 1002.3,639.5 1006.2,634.4 998.5,635.6 1001.0,627.9 999.7,620.3 1002.3,616.4 998.5,611.3Z" fill="#e3e3e3" stroke="#aaaaaa" stroke-width="0.7"/>
<path d="M769.7,459.7 778.7,455.9 789.0,449.5 800.5,443.1 799.9,450.8 791.5,455.9 783.8,461.0 774.9,466.2Z" fill="#b83d19" stroke="#6e6e6e" stroke-width="0.75"/>
<path d="M833.3,508.9 842.1,504.5 850.8,507.4 862.6,504.5 867.0,507.4 865.5,516.2 868.4,526.4 859.6,527.9 852.3,526.4 845.0,533.8 842.1,539.6 833.3,530.8 830.3,525.0 831.8,516.2Z" fill="#b83d19" stroke="#6e6e6e" stroke-width="0.75"/>
<path d="M953.0,492.0 969.1,477.3 976.4,478.8 992.6,493.4 1001.4,505.2 1002.8,515.4 994.0,516.9 979.4,522.7 972.1,514.0 963.3,503.7 954.5,503.7Z" fill="#b83d19" stroke="#6e6e6e" stroke-width="0.75"/>
<path d="M929.5,700.5 938.5,697.3 956.4,699.2 962.8,701.8 964.1,706.9 961.5,712.1 957.7,713.3 960.3,719.7 961.5,730.0 955.1,727.4 951.3,724.9 950.0,732.6 942.3,727.4 937.2,719.7 938.5,714.6 932.1,709.5 926.9,706.9Z" fill="#7a1711" stroke="#1c1c1c" stroke-width="0.9"/>
<path d="M928.2,678.7 941.0,674.9 946.2,678.7 951.3,681.3 961.5,682.6 964.1,687.7 971.8,690.3 976.9,691.5 980.8,694.1 976.9,695.4 970.5,691.5 966.7,692.8 969.2,696.7 974.4,699.2 974.4,703.1 969.2,701.8 964.1,697.9 959.0,696.7 951.3,694.7 943.6,692.8 938.5,692.8 933.3,689.0 929.5,686.4 928.2,682.6Z" fill="#b83d19" stroke="#6e6e6e" stroke-width="0.75"/>
<path d="M561.4,504.3 580.5,499.5 585.2,487.6 597.1,486.4 609.0,494.8 610.2,499.5 599.5,509.0 593.6,516.2 585.2,518.6 585.2,531.7 578.1,531.7 568.6,523.3 565.0,513.8Z" fill="#b83d19" stroke="#6e6e6e" stroke-width="0.75"/>
<path d="M444.8,574.3 454.3,570.7 466.2,566.0 478.1,571.9 497.1,574.3 516.2,583.8 497.1,587.4 478.1,587.4 475.7,602.9 466.2,605.2 456.7,601.7 447.1,599.3 447.1,591.0 446.0,581.4 447.1,577.9Z" fill="#64b22e" stroke="#6e6e6e" stroke-width="0.75"/>
<path d="M456.7,651.7 466.2,643.3 478.1,638.6 492.4,648.1 493.6,662.4 499.5,666.0 490.0,679.0 480.5,686.2 471.0,691.0 459.0,683.8 454.3,676.7 459.0,668.3 459.0,660.0Z" fill="#64b22e" stroke="#6e6e6e" stroke-width="0.75"/>
<path d="M537.6,587.4 551.9,591.0 561.4,593.3 580.5,605.2 594.8,608.8 609.0,614.8 628.1,619.5 632.9,623.1 631.7,631.4 611.4,641.0 592.4,648.1 585.2,655.2 573.3,655.2 566.2,664.8 551.9,652.9 547.1,636.2 551.9,626.7 554.3,614.8 542.4,605.2 535.2,598.1Z" fill="#b83d19" stroke="#6e6e6e" stroke-width="0.75"/>
<path d="M834.5,673.7 846.2,669.3 847.7,678.1 857.9,684.0 857.9,692.7 849.1,698.6 849.1,703.0 841.8,714.7 835.9,714.7 834.5,710.3 837.4,700.1 841.8,695.7 837.4,684.0Z" fill="#b83d19" stroke="#6e6e6e" stroke-width="0.75"/>
<path d="M775.0,595.7 781.0,593.3 788.1,600.5 795.2,607.6 800.0,614.8 792.9,618.3 785.7,612.4 783.3,605.2 776.2,600.5Z" fill="#b83d19" stroke="#6e6e6e" stroke-width="0.75"/>
<path d="M803.6,638.6 811.9,633.8 819.0,631.4 820.2,638.6 814.3,644.5 804.8,643.3Z" fill="#64b22e" stroke="#6e6e6e" stroke-width="0.75"/>
<path d="M694.0,554.3 700.0,551.4 707.1,551.9 708.3,557.9 702.4,559.5 696.4,559.0Z" fill="#64b22e" stroke="#6e6e6e" stroke-width="0.75"/>
<path d="M775.2,539.0 782.6,536.1 791.4,537.6 789.9,543.4 791.4,549.3 792.8,553.7 787.0,553.7 784.0,549.3 776.7,547.8Z" fill="#b83d19" stroke="#6e6e6e" stroke-width="0.75"/>
<path d="M746.7,532.5 756.2,530.3 767.9,528.8 773.8,533.2 775.2,536.1 769.4,536.1 762.1,540.5 759.1,543.4 754.7,539.0 747.4,539.0Z" fill="#b83d19" stroke="#6e6e6e" stroke-width="0.75"/>
<path d="M683.1,462.2 687.5,459.3 691.9,466.6 690.4,474.0 684.5,474.0 682.3,468.1Z" fill="#b83d19" stroke="#6e6e6e" stroke-width="0.75"/>
<path d="M829.1,242.9 821.3,237.0 817.4,231.2 813.5,219.4 813.5,207.7 815.4,197.9 823.2,184.3 829.1,176.4 836.9,168.6 838.9,160.8 840.8,149.1 844.7,135.4 848.6,123.7 858.4,120.7 868.2,121.7 874.0,126.6 876.0,135.4 872.1,143.2 866.2,155.0 858.4,166.7 850.6,174.5 848.6,182.3 852.5,192.1 854.5,203.8 855.5,219.4 858.4,231.2 864.3,239.0 876.0,240.9 891.6,237.0 901.4,231.2 910.0,227.3" fill="none" stroke="#1c1c1c" stroke-width="0.9"/>
<path d="M1034.5,0.0 1035.7,2.4 1032.1,11.9 1036.9,23.8 1026.2,33.3 1014.3,28.6 1013.1,19.0 1017.9,14.3 1016.7,9.5 1006.0,6.0 990.5,10.7 1000.0,19.0 1004.8,33.3 1016.7,42.9 1020.2,56.0 1011.9,53.6 1002.4,56.0 995.2,76.2 995.2,83.3 1004.8,92.9 1003.6,98.8 990.5,102.4 983.3,100.0 975.0,102.4 976.2,109.5 983.3,113.1 991.7,114.3 992.9,119.0 989.3,125.0 979.8,125.0 969.0,120.2 963.1,116.7 952.4,95.2 935.7,85.7 923.8,76.2 928.6,78.6 954.8,79.8 977.4,77.4 988.1,66.7 991.7,50.0 982.1,38.1 969.0,34.5 947.6,28.6 931.0,25.0 915.5,29.8 907.1,25.0 904.8,21.4" fill="none" stroke="#aaaaaa" stroke-width="0.7"/>
<path d="M803.3,71.8 804.0,79.8 797.4,82.7 793.0,91.5 793.0,103.3 788.6,112.1 785.7,120.8 779.5,125.1 778.2,145.6 774.4,155.9 778.2,161.0 776.9,168.7 766.7,168.7 761.5,177.7 760.3,199.5 761.5,209.7 762.8,222.6 764.1,225.0 762.1,218.1 767.9,224.0 767.9,228.4 764.2,235.7 766.4,243.0 765.0,251.8 759.9,259.1 759.1,267.9 759.1,275.2" fill="none" stroke="#1c1c1c" stroke-width="0.9"/>
<path d="M820.8,58.6 832.6,66.6 844.3,71.0 847.2,78.4 850.1,88.6 856.0,98.9 857.5,112.1 863.3,120.8" fill="none" stroke="#1c1c1c" stroke-width="0.9"/>
<path d="M724.0,187.3 731.3,191.7 732.7,196.1 729.8,200.5 732.7,205.6 738.6,202.0 741.5,198.3 750.3,199.0 757.7,204.2 760.6,204.9" fill="none" stroke="#6e6e6e" stroke-width="0.75"/>
<path d="M694.7,210.8 712.2,211.5 718.1,207.8 728.4,204.9 732.7,205.6" fill="none" stroke="#6e6e6e" stroke-width="0.75"/>
<path d="M712.2,211.5 713.7,215.2 716.6,219.6 721.0,224.0 719.6,231.3 715.2,238.6 714.4,247.4 710.8,253.3" fill="none" stroke="#6e6e6e" stroke-width="0.75"/>
<path d="M721.0,231.3 728.4,234.2 735.7,238.6 741.5,244.5 747.4,243.0 751.8,241.5 757.7,248.9 759.9,257.7" fill="none" stroke="#6e6e6e" stroke-width="0.75"/>
<path d="M688.8,265.0 702.0,259.1 709.3,257.7" fill="none" stroke="#6e6e6e" stroke-width="0.75"/>
<path d="M707.8,262.1 704.9,269.4 702.0,279.6 703.4,291.4" fill="none" stroke="#6e6e6e" stroke-width="0.75"/>
<path d="M756.4,148.2 766.7,146.9 776.9,145.6" fill="none" stroke="#6e6e6e" stroke-width="0.75"/>
<path d="M862.0,163.3 867.5,166.9 874.8,174.3 879.4,173.4 880.3,166.9 884.0,163.3 891.3,165.1 895.0,174.3 902.3,183.4 900.5,190.8 904.1,199.9 900.5,201.8 896.8,199.9" fill="none" stroke="#6e6e6e" stroke-width="0.75"/>
<path d="M904.1,199.9 909.6,207.3 915.1,209.1 922.4,203.6 935.3,192.6 938.9,187.1" fill="none" stroke="#6e6e6e" stroke-width="0.75"/>
<path d="M858.3,223.7 867.5,223.7 876.6,220.1 885.8,216.4 891.3,207.3 896.8,199.9" fill="none" stroke="#6e6e6e" stroke-width="0.75"/>
<path d="M884.0,236.6 884.0,227.4 893.1,223.7 902.3,220.1 909.6,221.9" fill="none" stroke="#6e6e6e" stroke-width="0.75"/>
<path d="M851.0,90.0 856.5,101.0 858.3,112.0 863.8,119.3" fill="none" stroke="#1c1c1c" stroke-width="0.9"/>
<path d="M784.2,72.5 790.1,74.0 795.9,71.8 803.3,71.0" fill="none" stroke="#6e6e6e" stroke-width="0.75"/>
<path d="M723.0,362.0 730.3,363.4 739.1,362.7" fill="none" stroke="#1c1c1c" stroke-width="0.9"/>
<path d="M793.3,385.4 794.8,392.7 793.3,401.5 797.7,413.3 800.7,422.1 802.1,430.8 805.1,436.7" fill="none" stroke="#1c1c1c" stroke-width="0.9"/>
<path d="M725.9,383.2 737.7,389.8 740.6,394.2 747.9,394.2 755.2,398.6 759.6,403.0 768.4,404.5 777.2,397.1 786.0,392.7 793.3,392.7" fill="none" stroke="#6e6e6e" stroke-width="0.75"/>
<path d="M747.9,394.2 750.8,386.9 748.6,378.8 750.8,375.2" fill="none" stroke="#6e6e6e" stroke-width="0.75"/>
<path d="M749.4,404.5 752.3,413.3 747.9,425.0 750.8,433.8" fill="none" stroke="#6e6e6e" stroke-width="0.75"/>
<path d="M768.4,404.5 769.9,416.2 777.2,425.0 781.6,430.8 784.5,433.8 794.8,433.8 800.7,432.3" fill="none" stroke="#6e6e6e" stroke-width="0.75"/>
<path d="M702.5,416.2 709.8,413.3 714.2,419.1 718.6,414.7 727.4,414.7 731.8,422.1 733.3,430.8 736.2,436.7" fill="none" stroke="#6e6e6e" stroke-width="0.75"/>
<path d="M689.3,452.8 704.0,448.4 711.3,445.5 718.6,441.1 725.9,436.7 733.3,432.3" fill="none" stroke="#6e6e6e" stroke-width="0.75"/>
<path d="M711.3,445.5 714.2,451.4 715.7,460.0" fill="none" stroke="#6e6e6e" stroke-width="0.75"/>
<path d="M780.1,410.3 784.5,409.6 787.5,413.3 783.1,414.7 780.1,413.3 780.1,410.3" fill="none" stroke="#6e6e6e" stroke-width="0.75"/>
<path d="M721.5,398.6 725.9,397.9 726.7,401.5 723.0,401.5 721.5,398.6" fill="none" stroke="#6e6e6e" stroke-width="0.75"/>
<path d="M797.7,401.5 805.1,398.6 813.8,395.7 820.0,397.1" fill="none" stroke="#6e6e6e" stroke-width="0.75"/>
<path d="M802.1,422.1 810.9,427.9 820.0,425.0" fill="none" stroke="#6e6e6e" stroke-width="0.75"/>
<path d="M799.2,407.4 808.0,404.5 815.3,398.6" fill="none" stroke="#6e6e6e" stroke-width="0.75"/>
<path d="M679.8,394.7 678.4,404.9 685.7,406.4 693.0,404.9" fill="none" stroke="#6e6e6e" stroke-width="0.75"/>
<path d="M671.0,415.2 678.4,413.7 685.7,415.2 691.5,416.6 697.4,422.5" fill="none" stroke="#6e6e6e" stroke-width="0.75"/>
<path d="M663.7,424.0 674.0,424.0 681.3,426.9 686.4,426.9" fill="none" stroke="#6e6e6e" stroke-width="0.75"/>
<path d="M644.7,444.5 652.0,445.9 663.7,444.5 674.0,447.4 682.7,447.4" fill="none" stroke="#6e6e6e" stroke-width="0.75"/>
<path d="M665.2,443.0 666.6,445.9 663.7,446.7 663.0,444.5 665.2,443.0" fill="none" stroke="#6e6e6e" stroke-width="0.75"/>
<path d="M693.0,393.9 703.3,393.2" fill="none" stroke="#6e6e6e" stroke-width="0.75"/>
<path d="M624.5,458.6 626.7,466.6 625.2,474.0 623.0,478.4 615.7,484.2 609.8,488.6 609.8,493.0" fill="none" stroke="#6e6e6e" stroke-width="0.75"/>
<path d="M623.0,478.4 633.3,479.8 642.1,481.3 649.4,485.7 647.9,494.5 643.5,497.4 637.7,498.9 628.9,495.9 624.5,490.1 623.0,479.8" fill="none" stroke="#6e6e6e" stroke-width="0.75"/>
<path d="M649.4,485.7 653.8,476.9 659.6,471.0 661.1,463.7" fill="none" stroke="#6e6e6e" stroke-width="0.75"/>
<path d="M643.5,497.4 647.9,498.9 653.8,504.7 662.6,506.2 671.4,513.5 681.6,507.7 688.9,509.1 696.3,513.5 699.2,517.9" fill="none" stroke="#6e6e6e" stroke-width="0.75"/>
<path d="M640.6,498.9 642.1,506.2 639.1,512.1 639.1,525.2 639.1,531.1 633.3,532.6 628.9,535.5 630.3,541.4 630.3,550.0" fill="none" stroke="#6e6e6e" stroke-width="0.75"/>
<path d="M609.8,493.0 601.0,503.3 598.1,516.4 604.0,520.8 608.4,531.1 618.6,535.5 628.9,535.5" fill="none" stroke="#6e6e6e" stroke-width="0.75"/>
<path d="M639.1,531.1 647.9,532.6 652.3,538.4 662.6,541.4 671.4,538.4 681.6,541.4 688.9,541.4" fill="none" stroke="#6e6e6e" stroke-width="0.75"/>
<path d="M560.0,481.3 568.8,481.3 580.5,484.2 583.4,488.6 583.4,497.4 579.0,501.8" fill="none" stroke="#6e6e6e" stroke-width="0.75"/>
<path d="M691.9,457.8 700.7,454.9 712.4,447.6 715.3,459.3 712.4,471.0 720.0,474.0" fill="none" stroke="#6e6e6e" stroke-width="0.75"/>
<path d="M691.9,466.6 703.6,472.5 705.1,479.8" fill="none" stroke="#6e6e6e" stroke-width="0.75"/>
<path d="M609.8,530.0 612.7,534.4 621.5,535.9 628.9,534.4 633.3,530.0" fill="none" stroke="#6e6e6e" stroke-width="0.75"/>
<path d="M628.9,534.4 630.3,541.7 627.4,552.0 624.5,559.3 621.5,565.2 621.5,569.6 612.7,563.7 609.8,565.2 604.0,574.0 602.5,578.4 595.2,581.3 586.4,584.2 583.4,588.6 583.4,597.4 582.0,603.3" fill="none" stroke="#6e6e6e" stroke-width="0.75"/>
<path d="M621.5,569.6 625.9,572.5 631.8,568.1 636.2,572.5 640.6,568.1 646.4,572.5 650.8,581.3 656.7,584.2 662.6,582.7 671.4,585.7 672.8,578.4 677.2,575.4 684.5,569.6 690.4,568.1" fill="none" stroke="#6e6e6e" stroke-width="0.75"/>
<path d="M659.6,584.2 661.1,590.1 656.7,595.9 652.3,598.9" fill="none" stroke="#6e6e6e" stroke-width="0.75"/>
<path d="M646.4,530.0 650.8,537.3 652.3,541.7 662.6,541.7 668.4,537.3 675.8,541.7 680.1,541.7 686.0,534.4" fill="none" stroke="#6e6e6e" stroke-width="0.75"/>
<path d="M560.0,593.0 568.8,598.9 579.0,604.7 593.7,609.1 608.4,613.5 615.7,617.9 630.3,619.4" fill="none" stroke="#1c1c1c" stroke-width="0.9"/>
<path d="M595.2,609.1 593.7,617.9 589.3,632.6 583.4,650.0" fill="none" stroke="#6e6e6e" stroke-width="0.75"/>
<path d="M573.2,601.8 565.9,610.6 561.5,620.8" fill="none" stroke="#6e6e6e" stroke-width="0.75"/>
<path d="M445.2,598.6 454.0,597.1 458.4,603.7 468.6,605.2 477.4,605.9 480.3,609.6 483.3,615.4 478.9,619.8 471.5,624.2 470.1,631.5 468.6,640.3 465.7,646.2 456.9,650.6 458.4,657.9 459.8,665.2 455.4,672.6 454.0,678.4 456.9,682.8 452.5,687.2 451.0,690.0" fill="none" stroke="#1c1c1c" stroke-width="0.9"/>
<path d="M512.6,586.1 515.5,592.0 522.8,597.8 527.2,593.4 536.0,593.4 537.5,589.0" fill="none" stroke="#6e6e6e" stroke-width="0.75"/>
<path d="M546.3,605.2 553.6,596.4 559.5,593.4" fill="none" stroke="#6e6e6e" stroke-width="0.75"/>
<path d="M536.0,605.2 537.5,614.0 544.8,615.4 553.6,619.8 556.5,621.3 562.4,615.4 565.3,611.0" fill="none" stroke="#6e6e6e" stroke-width="0.75"/>
<path d="M525.8,634.5 527.2,640.3 528.7,655.0 521.4,656.4 515.5,657.9 518.4,653.5 512.6,649.1 506.7,649.1 512.6,641.8 524.3,634.5" fill="none" stroke="#6e6e6e" stroke-width="0.75"/>
<path d="M492.1,649.1 506.7,649.1" fill="none" stroke="#6e6e6e" stroke-width="0.75"/>
<path d="M524.3,634.5 531.6,630.8 541.9,634.5 547.7,637.4 553.6,643.3" fill="none" stroke="#6e6e6e" stroke-width="0.75"/>
<path d="M492.1,678.4 500.8,685.8 503.8,690.0" fill="none" stroke="#6e6e6e" stroke-width="0.75"/>
<path d="M550.7,660.8 556.5,657.9 558.0,663.8 553.6,672.6 552.1,681.4 556.5,690.0" fill="none" stroke="#6e6e6e" stroke-width="0.75"/>
<path d="M492.4,679.0 513.8,688.6 532.9,691.0 537.6,698.1 551.9,691.0 556.7,688.6" fill="none" stroke="#6e6e6e" stroke-width="0.75"/>
<path d="M551.9,652.9 556.7,662.4 551.9,674.3 556.7,688.6 556.7,702.9" fill="none" stroke="#6e6e6e" stroke-width="0.75"/>
<path d="M535.2,698.1 542.4,712.4 551.9,707.6 556.7,702.9" fill="none" stroke="#6e6e6e" stroke-width="0.75"/>
<path d="M578.1,655.2 573.3,660.0 566.2,664.8" fill="none" stroke="#6e6e6e" stroke-width="0.75"/>
<path d="M594.8,608.8 587.6,631.4 585.2,655.2" fill="none" stroke="#6e6e6e" stroke-width="0.75"/>
<path d="M459.0,683.8 447.1,693.3 447.1,702.9" fill="none" stroke="#1c1c1c" stroke-width="0.9"/>
<path d="M747.4,533.2 756.2,530.3 767.9,528.8 773.8,533.2 782.6,536.1 791.4,537.6 789.9,543.4 791.4,549.3 794.3,556.6" fill="none" stroke="#1c1c1c" stroke-width="0.9"/>
<path d="M693.2,552.2 693.2,561.0 688.8,568.4 693.2,572.7 691.7,581.5 702.0,590.3 703.4,594.7" fill="none" stroke="#1c1c1c" stroke-width="0.9"/>
<path d="M719.6,544.9 718.1,556.6 719.6,566.9 728.4,577.1" fill="none" stroke="#6e6e6e" stroke-width="0.75"/>
<path d="M747.4,539.0 750.3,546.4 748.9,555.2 751.8,564.0 760.6,569.8 770.8,571.3" fill="none" stroke="#6e6e6e" stroke-width="0.75"/>
<path d="M728.4,571.3 738.6,568.4 748.9,571.3 762.1,571.3 770.8,571.3 773.8,572.7" fill="none" stroke="#6e6e6e" stroke-width="0.75"/>
<path d="M709.3,578.6 718.1,580.1 726.9,578.6 734.2,584.5 740.1,587.4" fill="none" stroke="#6e6e6e" stroke-width="0.75"/>
<path d="M738.6,583.0 745.9,588.9 754.7,590.3 760.6,587.4 767.9,594.7 775.2,596.2" fill="none" stroke="#6e6e6e" stroke-width="0.75"/>
<path d="M762.1,539.0 767.9,539.0 770.8,544.9 767.9,550.8 762.1,555.2 750.3,555.2" fill="none" stroke="#6e6e6e" stroke-width="0.75"/>
<path d="M775.2,597.7 772.3,602.1 769.4,610.8 770.8,619.6 765.0,622.6 762.1,627.0" fill="none" stroke="#6e6e6e" stroke-width="0.75"/>
<path d="M769.4,615.2 779.6,622.6 788.4,616.7 795.8,615.2" fill="none" stroke="#6e6e6e" stroke-width="0.75"/>
<path d="M788.4,616.7 791.4,625.5 797.2,634.3 806.0,637.2" fill="none" stroke="#6e6e6e" stroke-width="0.75"/>
<path d="M790.5,648.1 802.4,650.5 811.9,638.6 816.7,631.4" fill="none" stroke="#6e6e6e" stroke-width="0.75"/>
<path d="M802.4,650.5 816.7,660.0 826.2,669.5" fill="none" stroke="#6e6e6e" stroke-width="0.75"/>
<path d="M820.2,638.6 826.2,648.1 835.7,652.9 847.6,655.2 852.4,662.4" fill="none" stroke="#6e6e6e" stroke-width="0.75"/>
<path d="M826.2,648.1 831.0,660.0 835.7,671.9" fill="none" stroke="#6e6e6e" stroke-width="0.75"/>
<path d="M770.3,459.0 776.1,454.7 799.6,444.4 809.8,442.9 824.5,450.3 833.3,454.7 842.1,454.7 853.8,462.0 861.1,467.8" fill="none" stroke="#1c1c1c" stroke-width="0.9"/>
<path d="M770.3,459.0 774.7,469.3 786.4,484.0 793.7,492.7 806.9,485.4 818.6,486.9 827.4,486.9 837.7,488.4 845.0,482.5 853.8,475.2 861.1,469.3" fill="none" stroke="#1c1c1c" stroke-width="0.9"/>
<path d="M760.0,517.7 774.7,513.3 783.4,516.2 780.5,504.5 789.3,495.7 793.7,492.7" fill="none" stroke="#1c1c1c" stroke-width="0.9"/>
<path d="M861.1,469.3 868.4,466.4 878.7,470.8 888.9,467.8 900.7,469.3 912.4,469.3" fill="none" stroke="#1c1c1c" stroke-width="0.9"/>
<path d="M839.1,488.4 837.7,495.7 842.1,501.5 850.8,505.9 862.6,504.5 867.0,500.1 874.3,497.1 886.0,486.9 894.8,485.4 905.1,486.9 912.4,482.5" fill="none" stroke="#1c1c1c" stroke-width="0.9"/>
<path d="M842.1,501.5 837.7,508.9 831.8,513.3 830.3,527.9 828.9,533.8" fill="none" stroke="#1c1c1c" stroke-width="0.9"/>
<path d="M771.7,529.4 789.3,530.8 808.4,535.2 828.9,533.8" fill="none" stroke="#1c1c1c" stroke-width="0.9"/>
<path d="M790.8,539.6 801.0,542.6 808.4,542.6 818.6,535.2 827.4,536.7 836.2,536.7 843.5,542.6 852.3,548.4 867.0,545.5 874.3,542.6 884.5,539.6 897.7,533.8 905.1,526.4" fill="none" stroke="#1c1c1c" stroke-width="0.9"/>
<path d="M905.1,526.4 906.5,519.1 912.4,505.9 915.3,498.6 920.0,495.7" fill="none" stroke="#1c1c1c" stroke-width="0.9"/>
<path d="M774.7,466.4 787.8,462.0 796.6,457.6 804.0,453.2 809.8,451.7 814.2,459.0 815.7,466.4 806.9,473.7 796.6,475.2 789.3,473.7 787.8,464.9" fill="none" stroke="#6e6e6e" stroke-width="0.75"/>
<path d="M815.7,466.4 827.4,470.8 833.3,470.8 842.1,475.2 846.4,484.0" fill="none" stroke="#6e6e6e" stroke-width="0.75"/>
<path d="M806.9,473.7 808.4,479.6 814.2,482.5 817.1,485.4" fill="none" stroke="#6e6e6e" stroke-width="0.75"/>
<path d="M833.3,454.7 831.8,462.0 834.7,470.8" fill="none" stroke="#6e6e6e" stroke-width="0.75"/>
<path d="M839.1,456.1 842.1,464.9 850.8,466.4 855.2,470.8" fill="none" stroke="#6e6e6e" stroke-width="0.75"/>
<path d="M798.1,462.0 802.5,461.2 803.2,464.2 799.6,464.9 798.1,462.0" fill="none" stroke="#6e6e6e" stroke-width="0.75"/>
<path d="M808.4,494.2 809.8,498.6 804.0,504.5 806.9,510.3 815.7,508.9 825.9,511.8 828.9,516.2" fill="none" stroke="#6e6e6e" stroke-width="0.75"/>
<path d="M782.0,507.4 790.8,513.3 793.7,519.1 792.2,526.4 795.2,527.9" fill="none" stroke="#6e6e6e" stroke-width="0.75"/>
<path d="M795.2,513.3 804.0,511.8 808.4,510.3" fill="none" stroke="#6e6e6e" stroke-width="0.75"/>
<path d="M780.5,525.0 789.3,526.4 804.0,527.9 809.8,526.4 812.7,532.3" fill="none" stroke="#6e6e6e" stroke-width="0.75"/>
<path d="M827.4,498.6 831.8,497.1 833.3,500.1 828.9,501.5 827.4,498.6" fill="none" stroke="#6e6e6e" stroke-width="0.75"/>
<path d="M843.5,491.3 845.0,495.7 842.1,501.5" fill="none" stroke="#6e6e6e" stroke-width="0.75"/>
<path d="M853.8,478.1 859.6,484.0 858.2,489.8 865.5,497.1" fill="none" stroke="#6e6e6e" stroke-width="0.75"/>
<path d="M877.2,473.7 880.1,484.0 884.5,488.4" fill="none" stroke="#6e6e6e" stroke-width="0.75"/>
<path d="M865.5,501.5 871.4,504.5 877.2,508.9 886.0,516.2 896.3,511.8 903.6,516.2" fill="none" stroke="#6e6e6e" stroke-width="0.75"/>
<path d="M867.0,508.9 871.4,510.3 872.8,513.3 868.4,513.3 867.0,508.9" fill="none" stroke="#6e6e6e" stroke-width="0.75"/>
<path d="M874.3,519.1 884.5,522.1 891.9,517.7 900.7,522.1" fill="none" stroke="#6e6e6e" stroke-width="0.75"/>
<path d="M869.9,525.0 869.9,542.6" fill="none" stroke="#6e6e6e" stroke-width="0.75"/>
<path d="M834.7,440.0 839.1,447.3 834.7,453.2" fill="none" stroke="#6e6e6e" stroke-width="0.75"/>
<path d="M853.8,444.4 850.8,454.7 853.8,457.6" fill="none" stroke="#6e6e6e" stroke-width="0.75"/>
<path d="M871.4,444.4 865.5,457.6 868.4,460.5 880.1,469.3" fill="none" stroke="#6e6e6e" stroke-width="0.75"/>
<path d="M888.9,445.9 891.9,462.0 894.8,467.8" fill="none" stroke="#6e6e6e" stroke-width="0.75"/>
<path d="M801.0,542.6 808.4,548.4 809.8,555.8" fill="none" stroke="#6e6e6e" stroke-width="0.75"/>
<path d="M823.0,542.6 828.9,551.4 824.5,555.8 821.5,551.4 823.0,542.6" fill="none" stroke="#6e6e6e" stroke-width="0.75"/>
<path d="M920.8,492.0 912.0,502.2 907.6,516.9 904.7,528.6 894.4,535.9" fill="none" stroke="#1c1c1c" stroke-width="0.9"/>
<path d="M890.0,538.9 898.8,544.7 910.5,559.4 925.2,563.8 932.5,568.2 936.9,577.0 951.5,575.5 966.2,572.6 980.8,565.2 992.6,559.4 1004.3,560.8 1014.5,563.8 1021.9,563.8" fill="none" stroke="#1c1c1c" stroke-width="0.9"/>
<path d="M907.6,522.7 923.7,525.7 929.6,525.7 938.4,519.8 944.2,512.5 954.5,503.7" fill="none" stroke="#6e6e6e" stroke-width="0.75"/>
<path d="M929.6,525.7 936.9,535.9 941.3,541.8 954.5,537.4 964.7,538.9 977.9,535.9 979.4,522.7" fill="none" stroke="#6e6e6e" stroke-width="0.75"/>
<path d="M941.3,541.8 928.1,549.1 925.2,557.9 922.2,563.8" fill="none" stroke="#6e6e6e" stroke-width="0.75"/>
<path d="M954.5,537.4 955.9,552.1 963.3,565.2 964.7,575.5" fill="none" stroke="#6e6e6e" stroke-width="0.75"/>
<path d="M977.9,535.9 986.7,546.2 1005.8,544.7 1010.1,550.6 1001.4,559.4" fill="none" stroke="#6e6e6e" stroke-width="0.75"/>
<path d="M977.9,552.1 982.3,549.9 985.2,555.0 982.3,559.4 978.6,556.4 977.9,552.1" fill="none" stroke="#6e6e6e" stroke-width="0.75"/>
<path d="M890.0,521.3 897.3,514.0 904.7,516.9" fill="none" stroke="#6e6e6e" stroke-width="0.75"/>
<path d="M895.9,496.4 904.7,489.0 909.0,487.6" fill="none" stroke="#6e6e6e" stroke-width="0.75"/>
<path d="M972.1,575.5 970.6,587.2" fill="none" stroke="#6e6e6e" stroke-width="0.75"/>
<path d="M985.2,577.0 997.0,569.6 1007.2,560.8" fill="none" stroke="#6e6e6e" stroke-width="0.75"/>
<path d="M989.6,584.3 1001.4,581.4 1014.5,582.8" fill="none" stroke="#6e6e6e" stroke-width="0.75"/>
<path d="M973.5,472.9 985.2,470.0 992.6,472.9 1007.2,472.9 1010.1,481.7 1018.9,493.4 1027.7,500.8 1021.9,503.7 1014.5,505.2 1016.0,512.5 1010.1,527.1" fill="none" stroke="#aaaaaa" stroke-width="0.7"/>
<path d="M934.6,635.1 944.9,630.0 955.1,627.4 964.1,623.6 971.8,622.3 979.5,623.6 989.7,621.0 994.9,617.2 993.6,613.3" fill="none" stroke="#1c1c1c" stroke-width="0.9"/>
<path d="M941.0,592.8 948.7,591.5 956.4,592.8 962.8,596.7 970.5,595.4 976.9,592.8 987.2,587.7 1000.0,585.1 1015.4,583.8" fill="none" stroke="#6e6e6e" stroke-width="0.75"/>
<path d="M971.8,580.0 969.2,587.7 971.8,595.4 974.4,601.8 976.9,606.9 987.2,605.6 996.2,603.1 998.7,605.6" fill="none" stroke="#6e6e6e" stroke-width="0.75"/>
<path d="M962.8,596.7 957.7,603.1 956.4,612.1 959.0,618.5 961.5,623.6" fill="none" stroke="#6e6e6e" stroke-width="0.75"/>
<path d="M956.4,628.7 961.5,632.6 964.1,636.4 961.5,640.3" fill="none" stroke="#6e6e6e" stroke-width="0.75"/>
<path d="M926.9,642.8 932.1,650.5 935.9,656.9 942.3,659.5" fill="none" stroke="#6e6e6e" stroke-width="0.75"/>
<path d="M914.1,656.9 920.5,664.6 925.6,662.1 935.9,656.9" fill="none" stroke="#6e6e6e" stroke-width="0.75"/>
<path d="M921.8,667.2 926.9,672.3 929.5,677.4" fill="none" stroke="#6e6e6e" stroke-width="0.75"/>
<path d="M900.0,603.1 906.4,596.7 915.4,601.8 921.8,608.2 919.2,618.5 907.7,622.3 906.4,633.8 911.5,644.1 915.4,645.4" fill="none" stroke="#aaaaaa" stroke-width="0.7"/>
<path d="M921.8,609.5 933.3,612.1 939.7,610.8" fill="none" stroke="#aaaaaa" stroke-width="0.7"/>
<path d="M824.0,363.4 822.5,369.3 825.4,378.1 826.9,386.9" fill="none" stroke="#6e6e6e" stroke-width="0.75"/>
<path d="M826.9,386.9 832.7,384.0 841.5,381.0 850.3,384.0 856.2,378.1 854.7,369.3" fill="none" stroke="#6e6e6e" stroke-width="0.75"/>
<path d="M832.7,384.0 831.3,395.7 835.7,403.0 845.9,407.4 859.1,408.9" fill="none" stroke="#6e6e6e" stroke-width="0.75"/>
<path d="M826.9,386.9 822.5,392.7 815.2,398.6 800.5,405.9" fill="none" stroke="#6e6e6e" stroke-width="0.75"/>
<path d="M815.2,398.6 816.6,419.1 822.5,425.0 834.2,427.9 844.5,433.8" fill="none" stroke="#6e6e6e" stroke-width="0.75"/>
<path d="M859.1,408.9 854.7,416.2 848.9,427.9 844.5,433.8" fill="none" stroke="#6e6e6e" stroke-width="0.75"/>
<path d="M844.5,433.8 841.5,442.6 838.6,460.0" fill="none" stroke="#6e6e6e" stroke-width="0.75"/>
<path d="M848.9,435.2 856.2,436.7 870.8,439.6 876.7,430.8" fill="none" stroke="#6e6e6e" stroke-width="0.75"/>
<path d="M854.7,436.7 853.3,448.4 848.9,460.0" fill="none" stroke="#6e6e6e" stroke-width="0.75"/>
<path d="M870.8,439.6 873.8,448.4 867.9,460.0" fill="none" stroke="#6e6e6e" stroke-width="0.75"/>
<path d="M895.8,430.8 897.2,439.6 891.4,451.4 892.8,460.0" fill="none" stroke="#6e6e6e" stroke-width="0.75"/>
<path d="M885.5,382.5 891.4,392.7 897.2,398.6 908.9,403.0" fill="none" stroke="#6e6e6e" stroke-width="0.75"/>
<path d="M897.2,435.2 894.3,419.1 895.8,408.9 908.9,403.0" fill="none" stroke="#6e6e6e" stroke-width="0.75"/>
<path d="M916.3,340.0 917.7,351.7 920.7,357.6 930.9,356.1" fill="none" stroke="#6e6e6e" stroke-width="0.75"/>
<path d="M950.8,309.9 966.2,309.9 970.5,312.1 977.1,308.8 985.9,312.1 990.3,324.2 1003.5,339.6 1010.1,344.0 1018.9,348.4 1018.9,354.9 1010.1,359.3 1007.9,363.7 1012.3,372.5 1018.9,379.1" fill="none" stroke="#aaaaaa" stroke-width="0.7"/>
<path d="M920.0,414.3 926.6,407.7 942.0,403.3 959.6,403.3 970.5,405.5 985.9,401.1 992.5,401.1 1007.9,398.9 1005.7,390.1 1010.1,381.3 1018.9,379.1" fill="none" stroke="#aaaaaa" stroke-width="0.7"/>
<path d="M1018.9,379.1 1025.5,372.5 1040.9,365.9 1051.9,374.7 1054.1,383.5 1067.3,385.7 1078.2,396.7 1087.0,394.5 1100.2,389.0 1113.4,393.4 1126.6,391.2 1139.8,392.3 1144.2,405.5 1148.6,416.5 1148.6,429.7 1135.4,438.5 1135.4,449.5" fill="none" stroke="#aaaaaa" stroke-width="0.7"/>
<path d="M972.7,471.4 985.9,469.2 999.1,471.4 1007.9,473.6 1010.1,480.0" fill="none" stroke="#aaaaaa" stroke-width="0.7"/>
<path d="M951.2,309.3 961.9,309.3 971.4,311.7 983.3,310.5 990.5,323.6 1002.4,337.9 1019.0,347.4 1021.4,352.1 1009.5,359.3 1011.9,371.2 1019.0,379.5 1038.1,366.4 1050.0,371.2 1054.8,383.1 1071.4,387.9" fill="none" stroke="#aaaaaa" stroke-width="0.7"/>
<path d="M879.1,559.3 877.7,568.1 882.1,576.9 885.0,585.7 882.1,591.5 874.7,595.9 871.8,606.2 873.3,616.4" fill="none" stroke="#aaaaaa" stroke-width="0.7"/>
<path d="M880.6,593.0 887.9,597.4 895.2,603.3 902.6,597.4 908.4,598.9 921.6,606.2 920.1,612.1 909.9,623.8 907.0,620.8 896.7,613.5 893.8,612.1" fill="none" stroke="#aaaaaa" stroke-width="0.7"/>
<path d="M887.9,613.5 892.3,612.1 896.7,613.5 901.1,617.9 905.5,623.8 907.0,629.6 911.4,641.4 911.4,650.0" fill="none" stroke="#aaaaaa" stroke-width="0.7"/>
<path d="M907.0,623.8 911.4,620.8 921.6,613.5 931.9,612.1 940.7,617.9 945.1,626.7" fill="none" stroke="#aaaaaa" stroke-width="0.7"/>
<path d="M760.1,270.9 769.5,272.2 772.2,278.9 776.2,280.3 780.3,274.9 787.0,274.9 791.0,280.3 789.7,291.0 784.3,295.0 781.6,300.4 776.2,313.8 780.3,317.9 778.9,327.2 774.9,331.3" fill="none" stroke="#6e6e6e" stroke-width="0.75"/>
<path d="M787.0,274.9 787.0,253.4 792.3,252.1 797.7,254.8 801.7,249.4 809.8,248.1 815.2,242.7" fill="none" stroke="#6e6e6e" stroke-width="0.75"/>
<path d="M789.7,291.0 796.4,293.7 799.1,300.4 807.1,296.4 809.8,292.3 815.2,292.3" fill="none" stroke="#6e6e6e" stroke-width="0.75"/>
<path d="M780.3,328.6 788.3,327.2 799.1,328.6 804.4,325.9 809.8,328.6" fill="none" stroke="#6e6e6e" stroke-width="0.75"/>
<path d="M820.5,272.2 819.2,264.2 821.9,256.1 828.6,253.4 831.3,248.1" fill="none" stroke="#6e6e6e" stroke-width="0.75"/>
<path d="M870.5,323.8 882.2,317.9 892.5,316.4 901.3,317.9 911.5,313.5 920.3,317.9 932.1,322.3 937.9,323.8" fill="none" stroke="#1c1c1c" stroke-width="0.9"/>
<path d="M901.3,281.3 910.1,278.4 918.9,281.3 927.7,285.7 936.4,282.7" fill="none" stroke="#1c1c1c" stroke-width="0.9"/>
<path d="M913.0,332.6 918.9,335.5 923.3,338.4 932.1,332.6 937.9,331.1" fill="none" stroke="#6e6e6e" stroke-width="0.75"/>
<path d="M914.5,332.6 915.9,341.4 918.9,350.0" fill="none" stroke="#6e6e6e" stroke-width="0.75"/>
<path d="M501.9,371.2 511.4,372.4 516.2,361.7 523.3,359.3 530.5,359.3 538.8,356.9" fill="none" stroke="#6e6e6e" stroke-width="0.75"/>
<path d="M513.8,371.2 513.8,378.3 525.7,380.7 535.2,383.1" fill="none" stroke="#6e6e6e" stroke-width="0.75"/>
<path d="M738.0,521.0 735.0,517.4 741.5,512.3 740.3,504.6 742.8,498.2 745.4,494.4 744.0,486.7 741.5,475.0 736.4,470.0 730.0,471.0 728.6,463.8 741.0,454.0 737.7,445.6 739.0,436.7 749.2,432.2 758.2,440.5 767.2,444.4 771.0,443.0 768.5,432.8 781.3,430.9 785.0,435.4 799.2,431.5 803.0,432.8" fill="none" stroke="#6e6e6e" stroke-width="1.1"/>
<path d="M860.6,391.3 885.5,382.5 897.2,373.7 895.8,362.0 906.0,360.5" fill="none" stroke="#6e6e6e" stroke-width="1.1"/>
<path d="M859.9,407.4 867.9,410.3 876.7,419.1 878.2,427.9 894.3,430.8 897.2,435.2 907.5,442.6 920.7,442.6 925.1,439.6" fill="none" stroke="#6e6e6e" stroke-width="1.1"/>
<path d="M531.7,763.8 533.4,790.3" fill="none" stroke="#aaaaaa" stroke-width="0.7"/>
<path d="M716.2,740.7 711.0,790.3" fill="none" stroke="#aaaaaa" stroke-width="0.7"/>

</g>
</svg>
<svg class="a" style="left:0;top:0" width="140" height="105" viewBox="0 0 140 105">
 <path d="M36,13 L40,11 L44,12 L50,10 L58,9 L66,8 L72,9 L78,12 L83,15 L86,20 L88,27 L89,33 L87,38 L88,43 L85,47 L80,48 L74,49 L68,51 L62,50 L57,52 L52,51 L47,50 L40,49 L34,49 L28,48 L26,44 L30,42 L34,41 L33,37 L36,33 L37,28 L40,24 L39,20 L42,17 L37,16 Z" fill="#a7cf78"/>
 <path d="M31,36 L37,33 L44,30 L42,34 L38,37 L33,38 Z" fill="#fff"/>
 <path d="M52,40 L56,44 L54,47 L50,44 Z" fill="#fff" opacity="0.7"/>
 <g fill="none" stroke="#10306c" stroke-width="2" stroke-linecap="round">
  <path d="M29.5,21.4 Q50,11 77.1,13.5"/>
  <path d="M24.8,35.7 Q52,27 91.4,30.6"/>
  <path d="M24.8,47.6 Q55,52 90.6,41.3"/>
  <path d="M26.3,27.4 Q21,42 34.3,61.1"/>
  <path d="M45.4,6.3 Q30,28 41.4,58.7"/>
  <path d="M51.7,6 Q55,30 58.9,50"/>
  <path d="M58.1,4.8 Q78,15 74,47.6"/>
  <path d="M74,9.5 Q94,28 85,50"/>
 </g>
 <text x="44.5" y="77" font-family="Liberation Serif" font-size="46" fill="#10306c" stroke="#10306c" stroke-width="0.6">e</text>
 <text x="65.5" y="77" font-family="Liberation Serif" font-size="46" fill="#5db33a" stroke="#5db33a" stroke-width="0.6">c</text>
 <g fill="none" stroke="#5db33a">
  <ellipse cx="97.5" cy="66.8" rx="9.6" ry="9.8" stroke-width="3.2"/>
  <path d="M106.3,66 C107,56 103,50 102.5,45 C102,40 106,38 109,40" stroke-width="3.2" stroke-linecap="round"/>
 </g>
 <path d="M104.5,36.5 C108,35 112,36 111.5,38.5 C111,41 107,42 104.5,41 Z" fill="#5db33a"/>
 <text x="110.5" y="77" font-family="Liberation Serif" font-size="46" fill="#10306c" stroke="#10306c" stroke-width="0.6">c</text>
 <rect x="45.3" y="85" width="20.9" height="13.7" fill="#1d3f95"/>
 <circle cx="55.7" cy="91.9" r="4.6" fill="none" stroke="#e8c82a" stroke-width="1" stroke-dasharray="1,1.4"/>
 <g font-family="Liberation Sans" font-size="4.9" fill="#10306c" font-weight="bold" textLength="58">
  <text x="70.7" y="89.2" textLength="58.5" lengthAdjust="spacingAndGlyphs">EUROPEAN CENTRE FOR</text>
  <text x="70.7" y="94.3" textLength="53" lengthAdjust="spacingAndGlyphs">DISEASE PREVENTION</text>
  <text x="70.7" y="99.2" textLength="37" lengthAdjust="spacingAndGlyphs">AND CONTROL</text>
 </g>
</svg>
<div class="a" style="left:20px;top:147.5px;font-size:16px;font-weight:bold;line-height:20px;letter-spacing:0.8px;-webkit-text-stroke:0.55px #000">14-day COVID-19 case notification rate<br>per 100 000 population and test positivity, EU/EEA<br>weeks 43 - 44</div>
<svg class="a" style="left:0;top:215px" width="260" height="225" viewBox="0 215 260 225">
 <g stroke="#333" stroke-width="0.7">
  <rect x="56.5" y="232" width="62.5" height="31.5" fill="#7a1711"/>
  <rect x="121.5" y="232" width="62.5" height="31.5" fill="#7a1711"/>
  <rect x="186.5" y="232" width="62.5" height="31.5" fill="#7a1711"/>
  <rect x="56.5" y="265.5" width="62.5" height="31.5" fill="#b83d19"/>
  <rect x="121.5" y="265.5" width="62.5" height="31.5" fill="#b83d19"/>
  <rect x="186.5" y="265.5" width="62.5" height="31.5" fill="#b83d19"/>
  <rect x="56.5" y="299.5" width="62.5" height="31.5" fill="#f1a830"/>
  <rect x="121.5" y="299.5" width="62.5" height="31.5" fill="#f1a830"/>
  <rect x="186.5" y="299.5" width="62.5" height="31.5" fill="#b83d19"/>
  <rect x="56.5" y="333.5" width="62.5" height="31.5" fill="#64b22e"/>
  <rect x="121.5" y="333.5" width="62.5" height="31.5" fill="#f1a830"/>
  <rect x="186.5" y="333.5" width="62.5" height="31.5" fill="#f1a830"/>
  <rect x="56.5" y="367.5" width="62.5" height="31.5" fill="#64b22e"/>
  <rect x="121.5" y="367.5" width="62.5" height="31.5" fill="#64b22e"/>
  <rect x="186.5" y="367.5" width="62.5" height="31.5" fill="#f1a830"/>
 </g>
 <line x1="35.5" y1="404" x2="35.5" y2="238" stroke="#000" stroke-width="1.3"/>
 <path d="M35.5,228 L39.5,240 L31.5,240 Z" fill="#000"/>
 <line x1="49" y1="421" x2="234" y2="421" stroke="#000" stroke-width="1.3"/>
 <path d="M245,421 L233,417 L233,425 Z" fill="#000"/>
 <g font-family="Liberation Sans" font-size="7.2" text-anchor="middle">
  <text transform="translate(54,248) rotate(-90)">≥500</text>
  <text transform="translate(54,281) rotate(-90)">&gt;200-499</text>
  <text transform="translate(54,315) rotate(-90)">75-200</text>
  <text transform="translate(54,349) rotate(-90)">50-74</text>
  <text transform="translate(54,383) rotate(-90)">&lt;50</text>
  <text transform="translate(29,316) rotate(-90)" font-size="11" textLength="184" lengthAdjust="spacingAndGlyphs">14-day notification rate per 100 000 population</text>
  <text x="92" y="410" font-size="10">&lt;1%</text>
  <text x="153.5" y="410" font-size="10">1&lt;4%</text>
  <text x="218" y="410" font-size="10">≥4%</text>
  <text x="152" y="434" font-size="9.5">Positivity rate</text>
 </g>
</svg>
<div class="a" style="left:19.5px;top:454.5px;width:40px;height:19.5px;background:#b2b2b2;border:1px solid #444;box-sizing:border-box"></div>
<div class="a" style="left:19.5px;top:482.5px;width:40px;height:19.5px;background:#8a8a8a;border:1px solid #333;box-sizing:border-box"></div>
<div class="a" style="left:19.5px;top:510px;width:40px;height:20px;background:#e1e1e1;border:1px solid #666;box-sizing:border-box"></div>
<div class="a" style="left:69px;top:456px;font-size:14px;line-height:18px">Testing rate &lt; 300 per 100 000 population</div>
<div class="a" style="left:69px;top:483px;font-size:14px;line-height:18px">No data available</div>
<div class="a" style="left:69px;top:511px;font-size:14px;line-height:18px">Not included</div>
<div class="a" style="left:20px;top:537px;font-size:16px;line-height:19.5px;letter-spacing:0.35px">Regions not visible<br>in the main map extent</div>
<div class="a" style="left:20px;top:706px;font-size:16px;line-height:19.5px;letter-spacing:0.35px">Countries not visible<br>in the main map extent</div>
<div class="a" style="left:19.5px;top:585.5px;width:40.5px;height:18.5px;background:#f1a830;border:1px solid #444;box-sizing:border-box"></div>
<div class="a" style="left:19.5px;top:612px;width:40.5px;height:18.5px;background:#f1a830;border:1px solid #444;box-sizing:border-box"></div>
<div class="a" style="left:19.5px;top:639.5px;width:40.5px;height:18.5px;background:#f1a830;border:1px solid #444;box-sizing:border-box"></div>
<div class="a" style="left:19.5px;top:666px;width:40.5px;height:18.5px;background:#b83d19;border:1px solid #444;box-sizing:border-box"></div>
<div class="a" style="left:170.5px;top:586.5px;width:40px;height:18.5px;background:#f1a830;border:1px solid #444;box-sizing:border-box"></div>
<div class="a" style="left:170.5px;top:612px;width:40px;height:18.5px;background:#b83d19;border:1px solid #444;box-sizing:border-box"></div>
<div class="a" style="left:170.5px;top:639.5px;width:40px;height:18.5px;background:#f1a830;border:1px solid #444;box-sizing:border-box"></div>
<div class="a" style="left:170.5px;top:666px;width:40px;height:18.5px;background:#f1a830;border:1px solid #444;box-sizing:border-box"></div>
<div class="a" style="left:19.5px;top:752px;width:40.5px;height:20.5px;background:#64b22e;border:1px solid #444;box-sizing:border-box"></div>
<div class="a" style="left:170.5px;top:755.5px;width:40px;height:19px;background:#b83d19;border:1px solid #444;box-sizing:border-box"></div>
<div class="a" style="left:69px;top:587px;font-size:13px;line-height:16px">Azores</div>
<div class="a" style="left:69px;top:608px;font-size:11px;line-height:13px">Guadeloupe<br>and Saint Martin</div>
<div class="a" style="left:69px;top:642px;font-size:13px;line-height:16px">La Reunion</div>
<div class="a" style="left:69px;top:668px;font-size:13px;line-height:16px">Martinique</div>
<div class="a" style="left:219px;top:589px;font-size:13px;line-height:16px">Canary Islands</div>
<div class="a" style="left:219px;top:614px;font-size:13px;line-height:16px">Guyane</div>
<div class="a" style="left:219px;top:641px;font-size:13px;line-height:16px">Madeira</div>
<div class="a" style="left:219px;top:666px;font-size:13px;line-height:16px">Mayotte</div>
<div class="a" style="left:69px;top:755px;font-size:13px;line-height:16px">Malta</div>
<div class="a" style="left:219px;top:757px;font-size:13px;line-height:16px">Liechtenstein</div>
<div class="a" style="left:9px;top:793px;font-size:9.65px;line-height:12px">Administrative boundaries: © EuroGeographics © UN–FAO © Turkstat.©Kartverket©Instituto Nacional de Estatística - Statistics Portugal.</div>
<div class="a" style="left:9px;top:805px;font-size:9.57px;line-height:12px">The boundaries and names shown on this map do not imply official endorsement or acceptance by the European Union. ECDC. Map produced on: 10 Nov 2021</div>

</body></html>
